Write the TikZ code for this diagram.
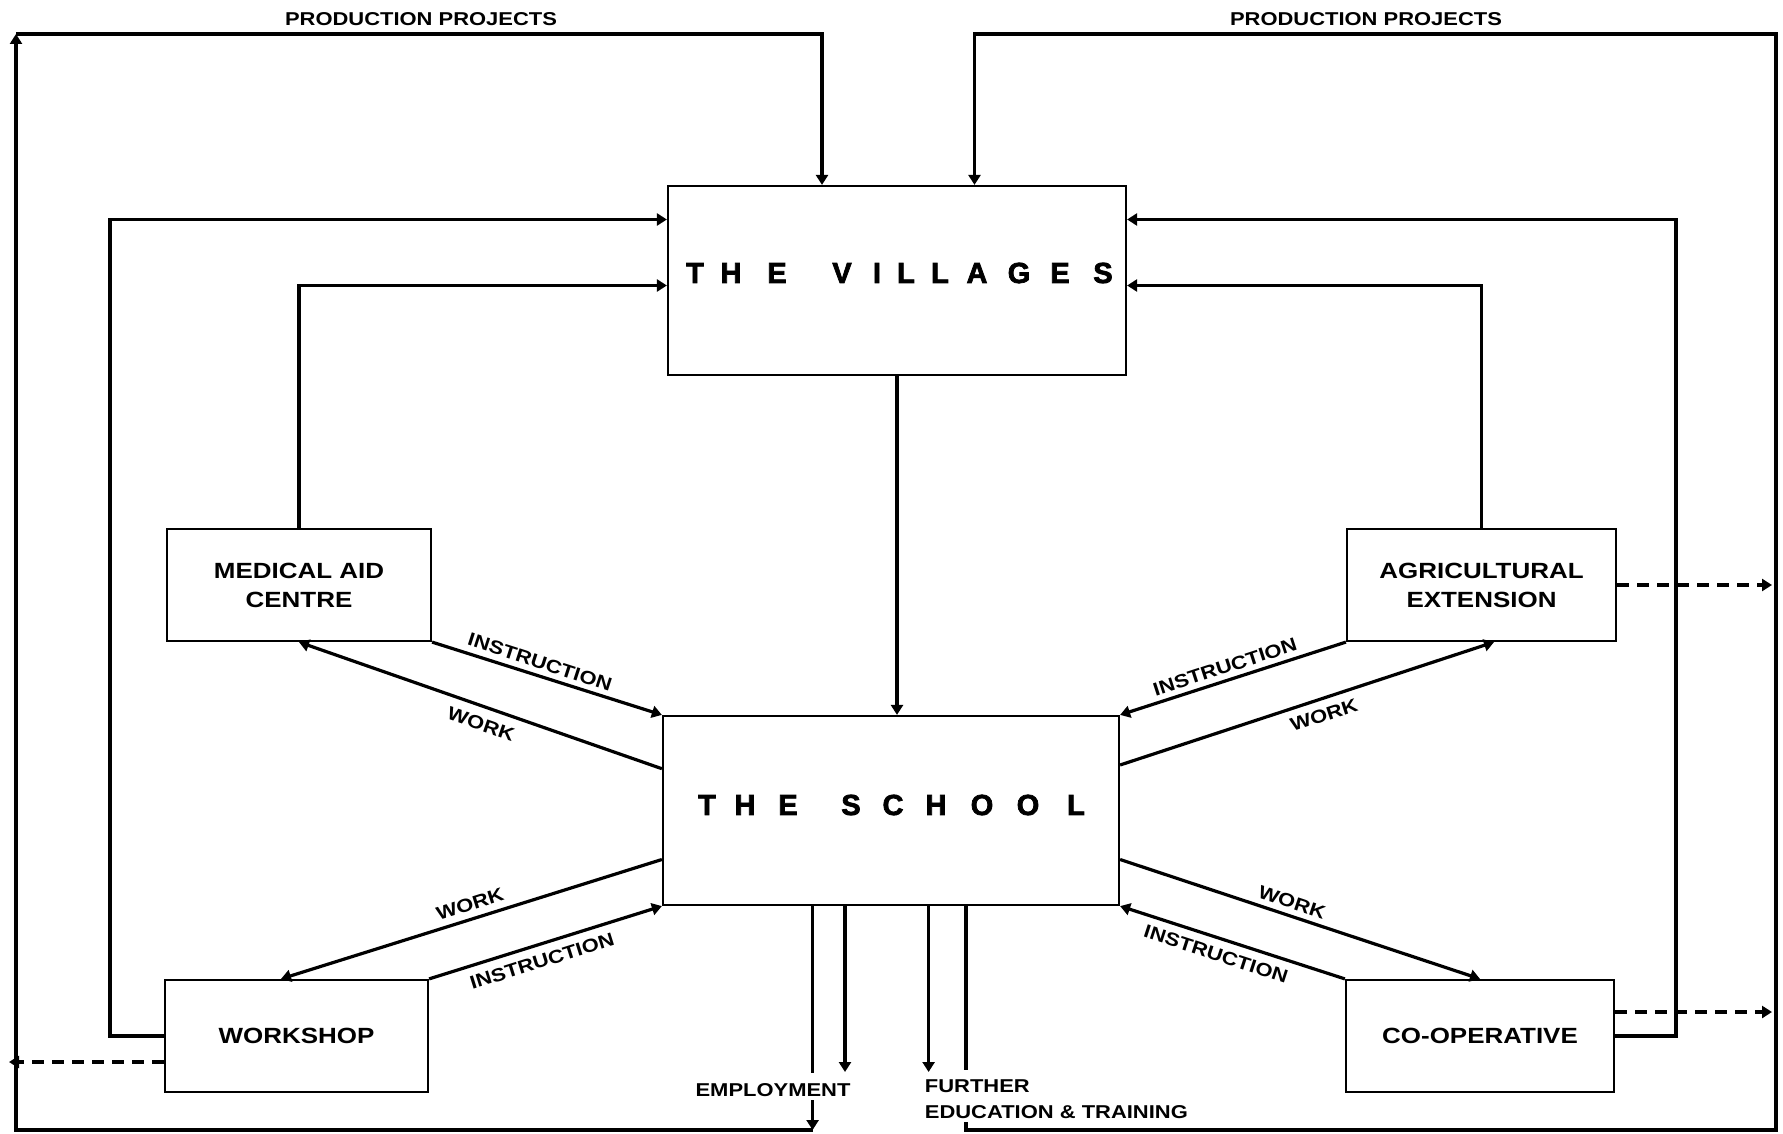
\documentclass[tikz,border=0pt]{standalone}
\usepackage{fontspec}
\newfontfamily\lab{Liberation Sans}[FakeStretch=1.18]
\newfontfamily\ttl{Liberation Sans}[BoldFeatures={FakeBold=2.5}]
\usetikzlibrary{arrows.meta}
\begin{document}
\begin{tikzpicture}[x=0.5pt,y=-0.5pt,
  box/.style={draw, line width=1.1pt, inner sep=0pt},
  conn/.style={line width=1.6pt},
  arr/.style={conn, -{Triangle[length=5pt,width=6pt]}},
  dsh/.style={arr, dash pattern=on 6pt off 4pt},
  lbl/.style={font=\lab\bfseries\fontsize{9.3}{11}\selectfont, inner sep=0pt},
  boxtxt/.style={font=\lab\bfseries\fontsize{11}{14.5}\selectfont, align=center},
  big/.style={font=\ttl\bfseries\fontsize{14.5}{16}\selectfont, inner sep=0pt}
]
\useasboundingbox (0,0) rectangle (1783,1134);

% boxes
\node[box, minimum width=229pt, minimum height=94.5pt] (vil) at (897,280.5) {};
\node[box, minimum width=228pt, minimum height=94.5pt] (sch) at (891,810.5) {};
\node[box, boxtxt, minimum width=132pt, minimum height=56pt] (med) at (299,585) {MEDICAL AID\\CENTRE};
\node[box, boxtxt, minimum width=134.5pt, minimum height=56pt] (agri) at (1481.5,585) {AGRICULTURAL\\EXTENSION};
\node[box, boxtxt, minimum width=131.5pt, minimum height=56pt] (ws) at (296.5,1036) {WORKSHOP};
\node[box, boxtxt, minimum width=134pt, minimum height=56pt] (coop) at (1480,1036) {CO-OPERATIVE};

% spaced titles
\foreach \x/\c [count=\i] in {695/T,731/H,777/E,842/V,877/I,906/L,940/L,977/A,1019/G,1060/E,1103/S}
  \node[big] (vl\i) at (\x,273) {\c};
\foreach \x/\c [count=\i] in {707/T,745/H,788/E,851/S,893/C,936/H,982/O,1028/O,1076/L}
  \node[big] (sl\i) at (\x,805) {\c};

% coordinates
\coordinate (TL) at (16,34);
\coordinate (TLx) at (822,34);
\coordinate (TR) at (1776,34);
\coordinate (TRx) at (974.5,34);
\coordinate (BL) at (16,1130);
\coordinate (BR) at (1776,1130);
\coordinate (xE1) at (812.6,1073);
\coordinate (xE1b) at (812.6,1100);
\coordinate (xE1c) at (812.6,1130);
\coordinate (xE2) at (845,1072);
\coordinate (xF1) at (928.6,1072);
\coordinate (xF2) at (966,1070);
\coordinate (xF2b) at (966,1122);
\coordinate (xF2c) at (966,1130);
\coordinate (L2) at (110,219.5);
\coordinate (L2b) at (110,1036);
\coordinate (L3) at (299,285.5);
\coordinate (R2) at (1676,219.5);
\coordinate (R2b) at (1676,1036);
\coordinate (R3) at (1481.5,285.5);
\coordinate (dA) at (1772,585);
\coordinate (dC) at (1772,1012);
\coordinate (dW) at (9,1062);

% outer loops
\draw[conn] (sch.south -| xE1) -- (xE1);
\draw[arr] (xE1b) -- (xE1c);
\draw[arr] (xE1c) -- (BL) -- (TL);
\draw[arr] (TL) -- (TLx) -- (vil.north -| TLx);
\draw[arr] (sch.south -| xE2) -- (xE2);
\draw[arr] (sch.south -| xF1) -- (xF1);
\draw[conn] (sch.south -| xF2) -- (xF2);
\draw[arr] (xF2b) -- (xF2c) -- (BR) -- (TR) -- (TRx) -- (vil.north -| TRx);

% side loops
\draw[arr] (ws.west) -- (L2b) -- (L2) -- (vil.west |- L2);
\draw[arr] (med.north) -- (L3) -- (vil.west |- L3);
\draw[arr] (coop.east) -- (R2b) -- (R2) -- (vil.east |- R2);
\draw[arr] (agri.north) -- (R3) -- (vil.east |- R3);

% dashed
\draw[dsh] (agri.east) -- (dA);
\draw[dsh] ([yshift=12pt]coop.east) -- (dC);
\draw[dsh] ([yshift=-13pt]ws.west) -- (dW);

% villages to school
\draw[arr] (vil.south) -- (vil.south |- sch.north);

% diagonals
\draw[arr] (med.south east) -- (sch.north west);
\draw[arr] ([yshift=20.9pt]sch.west) -- (med.south);
\draw[arr] ([yshift=-24.5pt]sch.west) -- ([xshift=-7.75pt]ws.north);
\draw[arr] (ws.north east) -- (sch.south west);
\draw[arr] (agri.south west) -- (sch.north east);
\draw[arr] ([yshift=22.75pt]sch.east) -- ([xshift=6.25pt]agri.south);
\draw[arr] ([yshift=-24.5pt]sch.east) -- (coop.north);
\draw[arr] (coop.north west) -- (sch.south east);

% labels
\node[lbl, rotate=-18] (li1) at (540,662) {INSTRUCTION};
\node[lbl, rotate=-19] (lw1) at (481,724) {WORK};
\node[lbl, rotate=17.5] (lw2) at (470,904) {WORK};
\node[lbl, rotate=17.5] (li2) at (542,961) {INSTRUCTION};
\node[lbl, rotate=18] (li3) at (1225,667) {INSTRUCTION};
\node[lbl, rotate=18] (lw3) at (1324,715) {WORK};
\node[lbl, rotate=-18.5] (lw4) at (1292,902) {WORK};
\node[lbl, rotate=-18] (li4) at (1216,954) {INSTRUCTION};

\node[lbl] (pp1) at (421,19) {PRODUCTION PROJECTS};
\node[lbl] (pp2) at (1366,19) {PRODUCTION PROJECTS};
\node[lbl] (emp) at (773,1090) {EMPLOYMENT};
\node[lbl, anchor=west] (fur) at (924.5,1086) {FURTHER};
\node[lbl, anchor=west] (edu) at (924.5,1112) {EDUCATION \& TRAINING};
\end{tikzpicture}
\end{document}
